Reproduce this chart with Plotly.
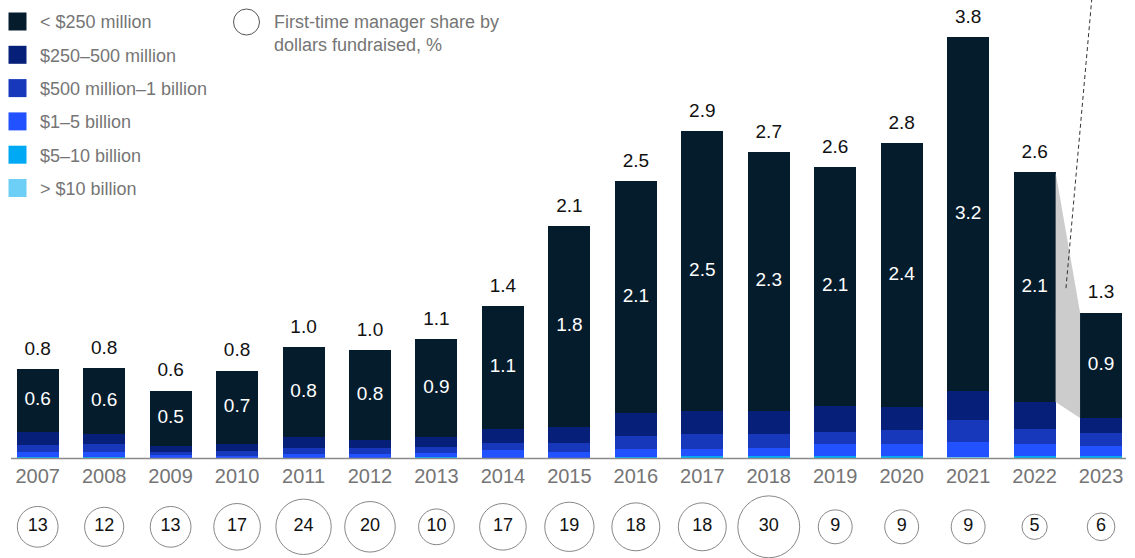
import plotly.graph_objects as go
import math

years = list(range(2007, 2024))
lt250 = [0.57, 0.59, 0.50, 0.66, 0.81, 0.81, 0.88, 1.11, 1.81, 2.09, 2.52, 2.33, 2.15, 2.38, 3.19, 2.07, 0.95]
m250_500 = [0.117, 0.090, 0.054, 0.066, 0.100, 0.072, 0.090, 0.126, 0.144, 0.207, 0.207, 0.207, 0.237, 0.207, 0.261, 0.243, 0.135]
m500_1b = [0.060, 0.072, 0.027, 0.042, 0.054, 0.054, 0.054, 0.063, 0.081, 0.117, 0.135, 0.126, 0.108, 0.126, 0.198, 0.135, 0.117]
b1_5 = [0.048, 0.048, 0.027, 0.020, 0.036, 0.036, 0.036, 0.072, 0.051, 0.072, 0.063, 0.072, 0.108, 0.108, 0.132, 0.108, 0.090]
b5_10 = [0.009, 0.009, 0, 0, 0, 0, 0.009, 0, 0.003, 0.009, 0.018, 0.018, 0.015, 0.018, 0, 0.018, 0.018]
gt10 = [0, 0, 0, 0, 0, 0, 0, 0, 0, 0, 0, 0, 0, 0, 0.009, 0, 0]

total_labels = ["0.8", "0.8", "0.6", "0.8", "1.0", "1.0", "1.1", "1.4", "2.1", "2.5", "2.9", "2.7", "2.6", "2.8", "3.8", "2.6", "1.3"]
lt250_labels = ["0.6", "0.6", "0.5", "0.7", "0.8", "0.8", "0.9", "1.1", "1.8", "2.1", "2.5", "2.3", "2.1", "2.4", "3.2", "2.1", "0.9"]
first_time_share = [13, 12, 13, 17, 24, 20, 10, 17, 19, 18, 18, 30, 9, 9, 9, 5, 6]

series_names = ["< $250 million", "$250–500 million", "$500 million–1 billion",
                "$1–5 billion", "$5–10 billion", "> $10 billion"]
series_vals = [lt250, m250_500, m500_1b, b1_5, b5_10, gt10]
colors = ["#051c2c", "#061f79", "#1838bc", "#2251ff", "#00a9f4", "#6ecff6"]

W, H = 1135, 558
BAR_W = 0.632
XR = [2006.4327, 2023.5107]
YR = [-0.9009, 4.1261]
FONT = "Liberation Sans, Arial, sans-serif"
GREY = "#757575"

def px(x):
    return x / W

def py(y):
    return 1 - y / H

fig = go.Figure()

# grey transition band between 2022 and 2023 (< $250 million segment)
base = [sum(v[i] for v in series_vals[1:]) for i in range(len(years))]
tops = [base[i] + lt250[i] for i in range(len(years))]
i22, i23 = years.index(2022), years.index(2023)
fig.add_trace(go.Scatter(
    x=[years[i22] + BAR_W / 2, years[i23] - BAR_W / 2, years[i23] - BAR_W / 2, years[i22] + BAR_W / 2],
    y=[tops[i22], tops[i23], base[i23], base[i22]],
    fill="toself", fillcolor="#cccccc", line=dict(width=0), mode="lines",
    hoverinfo="skip", showlegend=False))

# stacked bars, bottom to top
for name, vals, col in reversed(list(zip(series_names, series_vals, colors))):
    fig.add_trace(go.Bar(x=years, y=vals, name=name, marker=dict(color=col, line=dict(width=0)),
                         width=BAR_W, showlegend=False, hoverinfo="skip"))

# total labels
fig.add_trace(go.Scatter(x=years, y=[t + 0.171 for t in tops], text=total_labels, mode="text",
                         textposition="middle center", textfont=dict(family=FONT, size=19, color="#111111"),
                         showlegend=False, hoverinfo="skip", cliponaxis=False))
# inner labels
fig.add_trace(go.Scatter(x=years, y=[base[i] + lt250[i] / 2 for i in range(len(years))], text=lt250_labels,
                         mode="text", textposition="middle center",
                         textfont=dict(family=FONT, size=19, color="#ffffff"),
                         showlegend=False, hoverinfo="skip"))
# year labels
fig.add_trace(go.Scatter(x=years, y=[-0.18] * len(years), text=[str(y) for y in years], mode="text",
                         textposition="middle center", textfont=dict(family=FONT, size=20, color=GREY),
                         showlegend=False, hoverinfo="skip"))
# first-time manager circles
fig.add_trace(go.Scatter(x=years, y=[-0.62] * len(years), mode="markers+text",
                         text=[str(v) for v in first_time_share], textposition="middle center",
                         textfont=dict(family=FONT, size=18, color="#111111"),
                         marker=dict(size=[11.3 * math.sqrt(v) for v in first_time_share], sizemode="diameter",
                                     color="rgba(255,255,255,0)", line=dict(color="#555555", width=1)),
                         showlegend=False, hoverinfo="skip", cliponaxis=False))

shapes = []
annotations = []
# x axis baseline
shapes.append(dict(type="line", xref="paper", yref="y", x0=px(11), x1=px(1126), y0=-0.004, y1=-0.004,
                   line=dict(color="#8a8a8a", width=1.5)))
# dashed callout line
shapes.append(dict(type="line", xref="x", yref="y", x0=2022.472, y0=1.53, x1=2022.87, y1=4.2,
                   line=dict(color="#333333", width=1, dash="4px,3px")))

# custom legend
for k, (name, col) in enumerate(zip(series_names, colors)):
    cy = 21.5 + 33.3 * k
    shapes.append(dict(type="rect", xref="paper", yref="paper", x0=px(8.5), x1=px(26.5),
                       y0=py(cy + 9), y1=py(cy - 9), fillcolor=col, line=dict(width=0)))
    annotations.append(dict(xref="paper", yref="paper", x=px(38), y=py(cy + 1), text=name, showarrow=False,
                            xanchor="left", yanchor="middle", font=dict(family=FONT, size=18, color=GREY)))
shapes.append(dict(type="circle", xref="paper", yref="paper", x0=px(233.5), x1=px(259.5),
                   y0=py(35), y1=py(9), line=dict(color="#555555", width=1), fillcolor="rgba(0,0,0,0)"))
annotations.append(dict(xref="paper", yref="paper", x=px(272), y=py(10), text="First-time manager share by<br>dollars fundraised, %",
                        showarrow=False, xanchor="left", yanchor="top", align="left",
                        font=dict(family=FONT, size=18, color=GREY)))

fig.update_layout(
    width=W, height=H, barmode="stack", bargap=0,
    margin=dict(l=0, r=0, t=0, b=0),
    paper_bgcolor="white", plot_bgcolor="white",
    xaxis=dict(range=XR, visible=False, fixedrange=True),
    yaxis=dict(range=YR, visible=False, fixedrange=True),
    shapes=shapes, annotations=annotations, showlegend=False,
)

fig.write_html("out.html", config={"displayModeBar": False},
               post_script="document.body.style.margin='0';document.body.style.overflow='hidden';")
